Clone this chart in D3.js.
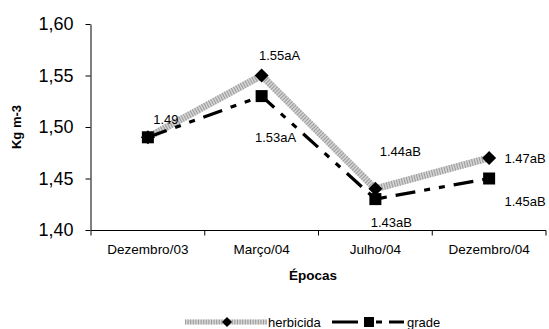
<!DOCTYPE html>
<html><head><meta charset="utf-8">
<script src="https://cdn.jsdelivr.net/npm/d3@7/dist/d3.min.js"></script>
<style>body{margin:0;background:#fff}svg{display:block;font-family:"Liberation Sans",Arial,sans-serif}</style>
</head><body><svg id="c" width="549" height="329"></svg>
<script>
const categories = ["Dezembro/03","Março/04","Julho/04","Dezembro/04"];
const herbicida = [1.49, 1.55, 1.44, 1.47];
const grade = [1.49, 1.53, 1.43, 1.45];
const herbicidaLabels = ["1.49","1.55aA","1.44aB","1.47aB"];
const gradeLabels = ["","1.53aA","1.43aB","1.45aB"];
const yTicks = [1.40,1.45,1.50,1.55,1.60];

const svg = d3.select("#c");
const x = d3.scaleBand().domain(categories).range([91, 546]);
const y = d3.scaleLinear().domain([1.40,1.60]).range([230, 24]);
const cx = d => x(d) + x.bandwidth()/2;

// y axis
const ya = svg.append("g").attr("transform","translate(90.5,0)")
  .call(d3.axisLeft(y).tickValues(yTicks).tickSize(5).tickSizeOuter(0).tickFormat(d => d3.format(".2f")(d).replace(".",",")));
ya.select(".domain").attr("stroke","#000");
ya.selectAll("text").attr("font-size","18px").attr("fill","#000").attr("font-family","Liberation Sans, Arial").attr("dx","-9");
// x axis
const xa = svg.append("g").attr("transform","translate(0,230.5)")
  .call(d3.axisBottom(x).tickSize(0).tickSizeOuter(0));
xa.select(".domain").attr("d","M91,0H546").attr("stroke","#000");
xa.selectAll("text").attr("font-size","13.5px").attr("fill","#000").attr("dy","1.55em").attr("font-family","Liberation Sans, Arial");
const bounds = categories.map(c => x(c)).concat([x(categories[categories.length-1]) + x.bandwidth()]);
xa.selectAll(".bt").data(bounds).enter().append("line").attr("x1",d=>d).attr("x2",d=>d).attr("y1",0).attr("y2",5).attr("stroke","#000");

// titles
svg.append("text").attr("x",313).attr("y",280).attr("text-anchor","middle").attr("font-weight","bold").attr("font-size","13.5px").text("Épocas");
svg.append("text").attr("transform","translate(21,127) rotate(-90)").attr("text-anchor","middle").attr("font-weight","bold").attr("font-size","13px").text("Kg m-3");

const line = d3.line().x((d,i)=>cx(categories[i])).y(d=>y(d));
// herbicida line (striped gray)
svg.append("path").attr("d",line(herbicida)).attr("fill","none").attr("stroke","#d4d4d4").attr("stroke-width",7);
svg.append("path").attr("d",line(herbicida)).attr("fill","none").attr("stroke","#9a9a9a").attr("stroke-width",7).attr("stroke-dasharray","1,1.6");
svg.selectAll(".dm").data(herbicida).enter().append("path")
  .attr("d","M0,-7L7,0L0,7L-7,0Z").attr("transform",(d,i)=>`translate(${cx(categories[i])},${y(d)})`).attr("fill","#000");
// grade line
svg.append("path").attr("d",line(grade)).attr("fill","none").attr("stroke","#000").attr("stroke-width",3.2).attr("stroke-dasharray","20,9,6,9,6,9");
svg.selectAll(".sq").data(grade).enter().append("rect")
  .attr("x",(d,i)=>cx(categories[i])-6).attr("y",d=>y(d)-6).attr("width",12).attr("height",12).attr("fill","#000");

// data labels
const hOff = [[18,-13],[18,-15.5],[25,-33],[36,5]];
const gOff = [[0,0],[14,46],[16,28],[36,27]];
svg.selectAll(".hl").data(herbicida).enter().append("text")
  .attr("x",(d,i)=>cx(categories[i])+hOff[i][0]).attr("y",(d,i)=>y(d)+hOff[i][1])
  .attr("text-anchor","middle").attr("font-size","13px").text((d,i)=>herbicidaLabels[i]);
svg.selectAll(".gl").data(grade).enter().append("text")
  .attr("x",(d,i)=>cx(categories[i])+gOff[i][0]).attr("y",(d,i)=>y(d)+gOff[i][1])
  .attr("text-anchor","middle").attr("font-size","13px").text((d,i)=>gradeLabels[i]);

// legend
const ly = 322;
svg.append("line").attr("x1",185).attr("x2",267).attr("y1",ly).attr("y2",ly).attr("stroke","#d4d4d4").attr("stroke-width",5);
svg.append("line").attr("x1",185).attr("x2",267).attr("y1",ly).attr("y2",ly).attr("stroke","#9a9a9a").attr("stroke-width",5).attr("stroke-dasharray","1,1.6");
svg.append("path").attr("d","M0,-5L5,0L0,5L-5,0Z").attr("transform",`translate(227,${ly})`);
svg.append("text").attr("x",268).attr("y",ly+4.5).attr("font-size","13px").text("herbicida");
svg.append("line").attr("x1",332).attr("x2",404).attr("y1",ly).attr("y2",ly).attr("stroke","#000").attr("stroke-width",3).attr("stroke-dasharray","26,7,4,7,6,7");
svg.append("rect").attr("x",364).attr("y",ly-5).attr("width",10).attr("height",10);
svg.append("text").attr("x",407).attr("y",ly+4.5).attr("font-size","13px").text("grade");
</script></body></html>
